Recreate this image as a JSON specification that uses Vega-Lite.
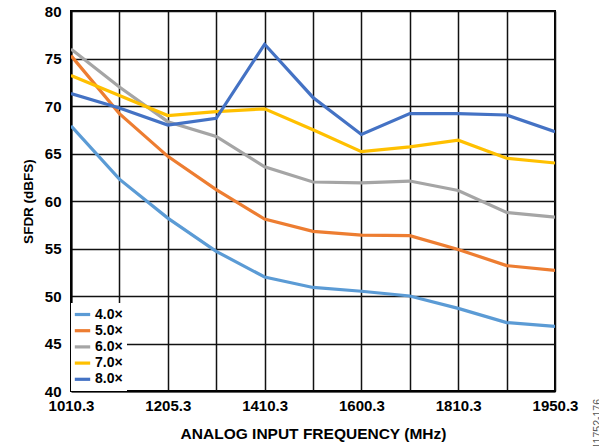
{
  "$schema": "https://vega.github.io/schema/vega-lite/v6.json",
  "width": 484,
  "height": 380,
  "autosize": "none",
  "padding": {"left": 71, "top": 11, "right": 44, "bottom": 55},
  "background": "white",
  "config": {
    "font": "Liberation Sans",
    "view": {"stroke": "black", "strokeWidth": 2},
    "axis": {
      "labelFont": "Liberation Sans", "labelFontWeight": "bold", "labelFontSize": 15, "labelColor": "black",
      "titleFont": "Liberation Sans", "titleFontWeight": "bold", "titleColor": "black",
      "gridColor": "#111", "gridWidth": 1.5, "gridOpacity": 1,
      "domainColor": "black", "domainWidth": 2, "ticks": false
    }
  },
  "title": {"text": "11752-176", "orient": "right", "anchor": "end", "angle": -90, "frame": "group", "fontSize": 10.5, "fontWeight": "normal", "color": "#555", "font": "Liberation Sans", "offset": 5, "dx": -8},
  "data": {"values": [
    {"freq": "1010.3", "s": "4.0×", "v": 67.9}, {"freq": "1110.3", "s": "4.0×", "v": 62.3}, {"freq": "1205.3", "s": "4.0×", "v": 58.2}, {"freq": "1310.3", "s": "4.0×", "v": 54.7}, {"freq": "1410.3", "s": "4.0×", "v": 52.0}, {"freq": "1510.3", "s": "4.0×", "v": 50.9}, {"freq": "1600.3", "s": "4.0×", "v": 50.5}, {"freq": "1710.3", "s": "4.0×", "v": 50.0}, {"freq": "1810.3", "s": "4.0×", "v": 48.7}, {"freq": "1910.3", "s": "4.0×", "v": 47.2}, {"freq": "1950.3", "s": "4.0×", "v": 46.8},
    {"freq": "1010.3", "s": "5.0×", "v": 75.3}, {"freq": "1110.3", "s": "5.0×", "v": 69.2}, {"freq": "1205.3", "s": "5.0×", "v": 64.7}, {"freq": "1310.3", "s": "5.0×", "v": 61.2}, {"freq": "1410.3", "s": "5.0×", "v": 58.1}, {"freq": "1510.3", "s": "5.0×", "v": 56.8}, {"freq": "1600.3", "s": "5.0×", "v": 56.4}, {"freq": "1710.3", "s": "5.0×", "v": 56.35}, {"freq": "1810.3", "s": "5.0×", "v": 54.9}, {"freq": "1910.3", "s": "5.0×", "v": 53.2}, {"freq": "1950.3", "s": "5.0×", "v": 52.7},
    {"freq": "1010.3", "s": "6.0×", "v": 76.0}, {"freq": "1110.3", "s": "6.0×", "v": 72.0}, {"freq": "1205.3", "s": "6.0×", "v": 68.35}, {"freq": "1310.3", "s": "6.0×", "v": 66.8}, {"freq": "1410.3", "s": "6.0×", "v": 63.6}, {"freq": "1510.3", "s": "6.0×", "v": 62.0}, {"freq": "1600.3", "s": "6.0×", "v": 61.9}, {"freq": "1710.3", "s": "6.0×", "v": 62.1}, {"freq": "1810.3", "s": "6.0×", "v": 61.1}, {"freq": "1910.3", "s": "6.0×", "v": 58.8}, {"freq": "1950.3", "s": "6.0×", "v": 58.3},
    {"freq": "1010.3", "s": "7.0×", "v": 73.2}, {"freq": "1110.3", "s": "7.0×", "v": 71.1}, {"freq": "1205.3", "s": "7.0×", "v": 69.0}, {"freq": "1310.3", "s": "7.0×", "v": 69.4}, {"freq": "1410.3", "s": "7.0×", "v": 69.7}, {"freq": "1510.3", "s": "7.0×", "v": 67.5}, {"freq": "1600.3", "s": "7.0×", "v": 65.2}, {"freq": "1710.3", "s": "7.0×", "v": 65.7}, {"freq": "1810.3", "s": "7.0×", "v": 66.4}, {"freq": "1910.3", "s": "7.0×", "v": 64.5}, {"freq": "1950.3", "s": "7.0×", "v": 64.0},
    {"freq": "1010.3", "s": "8.0×", "v": 71.3}, {"freq": "1110.3", "s": "8.0×", "v": 69.8}, {"freq": "1205.3", "s": "8.0×", "v": 68.0}, {"freq": "1310.3", "s": "8.0×", "v": 68.7}, {"freq": "1410.3", "s": "8.0×", "v": 76.5}, {"freq": "1510.3", "s": "8.0×", "v": 70.9}, {"freq": "1600.3", "s": "8.0×", "v": 67.0}, {"freq": "1710.3", "s": "8.0×", "v": 69.2}, {"freq": "1810.3", "s": "8.0×", "v": 69.2}, {"freq": "1910.3", "s": "8.0×", "v": 69.05}, {"freq": "1950.3", "s": "8.0×", "v": 67.3}
  ]},
  "mark": {"type": "line", "strokeWidth": 3.2, "clip": true},
  "encoding": {
    "x": {
      "field": "freq", "type": "ordinal",
      "scale": {"type": "point", "padding": 0},
      "axis": {
        "title": "ANALOG INPUT FREQUENCY (MHz)", "titleFontSize": 15.5, "labelAngle": 0, "grid": true, "labelPadding": 7, "titlePadding": 13,
        "labelExpr": "indexof(['1010.3','1205.3','1410.3','1600.3','1810.3','1950.3'], datum.label) >= 0 ? datum.label : ''"
      }
    },
    "y": {
      "field": "v", "type": "quantitative",
      "scale": {"domain": [40, 80], "nice": false, "zero": false},
      "axis": {"title": "SFDR (dBFS)", "titleFontSize": 13.5, "values": [40, 45, 50, 55, 60, 65, 70, 75, 80], "grid": true, "labelPadding": 10, "titlePadding": 9}
    },
    "color": {
      "field": "s", "type": "nominal",
      "scale": {"domain": ["4.0×", "5.0×", "6.0×", "7.0×", "8.0×"], "range": ["#5B9BD5", "#ED7D31", "#A5A5A5", "#FFC000", "#4472C4"]},
      "legend": {
        "title": null, "orient": "bottom-left", "offset": 0, "fillColor": "white", "padding": 4,
        "symbolType": "M-1.4,0H1.4", "symbolStrokeWidth": 3.2, "symbolSize": 121,
        "labelFont": "Liberation Sans", "labelFontWeight": "bold", "labelFontSize": 14, "labelColor": "black",
        "rowPadding": 1.2, "labelOffset": 5
      }
    }
  }
}
